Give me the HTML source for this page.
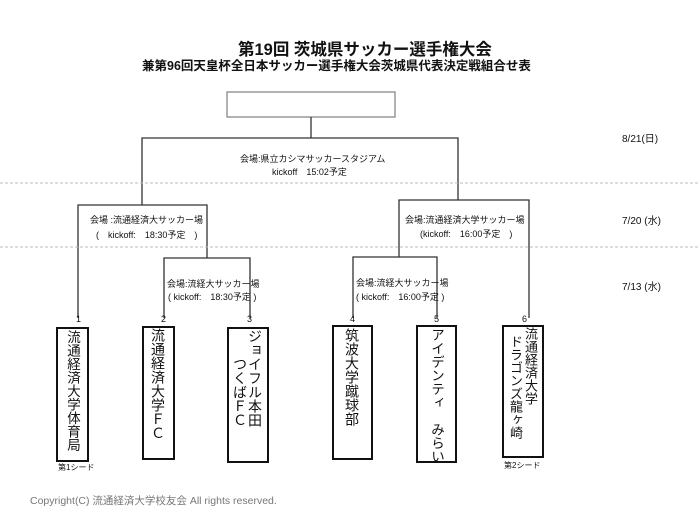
<!DOCTYPE html>
<html><head><meta charset="utf-8"><style>
body{margin:0;width:700px;height:525px;background:#fff;position:relative;overflow:hidden;font-family:"Liberation Sans","Noto Sans CJK JP",sans-serif;color:#111}
.t{position:absolute;white-space:nowrap}
.s{font-size:9px;text-align:center}
.v{position:absolute;writing-mode:vertical-rl;font-size:14px;line-height:14px;letter-spacing:0}
.box{position:absolute;border:2px solid #111;box-sizing:border-box;background:#fff}
</style></head><body>
<svg width="700" height="525" style="position:absolute;left:0;top:0">
<g stroke="#333" stroke-width="1.3" fill="none">
<rect x="227" y="92" width="168" height="25" stroke="#888"/>
<line x1="311" y1="117" x2="311" y2="138"/>
<polyline points="142,205 142,138 458,138 458,200"/>
<polyline points="78,318 78,205 207,205 207,258"/>
<polyline points="399,257 399,200 529,200 529,318"/>
<polyline points="164,318 164,258 250,258 250,318"/>
<polyline points="353,318 353,257 437,257 437,318"/>
<line x1="0" y1="183" x2="700" y2="183" stroke="#bbb" stroke-dasharray="3,2" stroke-width="1"/>
<line x1="0" y1="247" x2="700" y2="247" stroke="#bbb" stroke-dasharray="3,2" stroke-width="1"/>
</g></svg>
<div class="t" style="left:238px;top:36px;font-size:16.5px;font-weight:bold">第19回 茨城県サッカー選手権大会</div>
<div class="t" style="left:142px;top:55px;font-size:12.5px;font-weight:bold">兼第96回天皇杯全日本サッカー選手権大会茨城県代表決定戦組合せ表</div>
<div class="t s" style="left:240px;top:152px">会場:県立カシマサッカースタジアム</div>
<div class="t s" style="left:272px;top:165px">kickoff　15:02予定</div>
<div class="t s" style="left:90px;top:213px">会場 :流通経済大サッカー場</div>
<div class="t s" style="left:96px;top:228px">(　kickoff:　18:30予定　)</div>
<div class="t s" style="left:405px;top:213px">会場:流通経済大学サッカー場</div>
<div class="t s" style="left:420px;top:227px">(kickoff:　16:00予定　)</div>
<div class="t s" style="left:167px;top:277px">会場:流経大サッカー場</div>
<div class="t s" style="left:168px;top:290px">( kickoff:　18:30予定 )</div>
<div class="t s" style="left:356px;top:276px">会場:流経大サッカー場</div>
<div class="t s" style="left:356px;top:290px">( kickoff:　16:00予定 )</div>
<div class="t" style="left:622px;top:130px;font-size:10px">8/21(日)</div>
<div class="t" style="left:622px;top:212px;font-size:10px">7/20 (水)</div>
<div class="t" style="left:622px;top:278px;font-size:10px">7/13 (水)</div>
<div class="t" style="left:76px;top:314px;font-size:9px">1</div>
<div class="t" style="left:161px;top:314px;font-size:9px">2</div>
<div class="t" style="left:247px;top:314px;font-size:9px">3</div>
<div class="t" style="left:350px;top:314px;font-size:9px">4</div>
<div class="t" style="left:434px;top:314px;font-size:9px">5</div>
<div class="t" style="left:522px;top:314px;font-size:9px">6</div>
<div class="box" style="left:56px;top:327px;width:33px;height:135px"></div>
<div class="v" style="left:65px;top:330px;font-size:13.5px;line-height:14px">流通経済大学体育局</div>
<div class="box" style="left:142px;top:326px;width:33px;height:134px"></div>
<div class="v" style="left:151px;top:328px">流通経済大学ＦＣ</div>
<div class="box" style="left:227px;top:327px;width:42px;height:136px"></div>
<div class="v" style="left:248px;top:329px">ジョイフル本田</div>
<div class="v" style="left:233px;top:357px">つくばＦＣ</div>
<div class="box" style="left:332px;top:325px;width:41px;height:135px"></div>
<div class="v" style="left:345px;top:328px">筑波大学蹴球部</div>
<div class="box" style="left:416px;top:325px;width:41px;height:138px"></div>
<div class="v" style="left:429px;top:328px;font-size:13.5px">アイデンティ　みらい</div>
<div class="box" style="left:502px;top:325px;width:42px;height:133px"></div>
<div class="v" style="left:524px;top:327px;font-size:13px;line-height:13px">流通経済大学</div>
<div class="v" style="left:509px;top:335px;font-size:13px;line-height:13px">ドラゴンズ龍ヶ崎</div>
<div class="t" style="left:58px;top:462px;font-size:8px">第1シード</div>
<div class="t" style="left:504px;top:460px;font-size:8px">第2シード</div>
<div class="t" style="left:30px;top:493px;font-size:10.5px;color:#777">Copyright(C) 流通経済大学校友会 All rights reserved.</div>
</body></html>
